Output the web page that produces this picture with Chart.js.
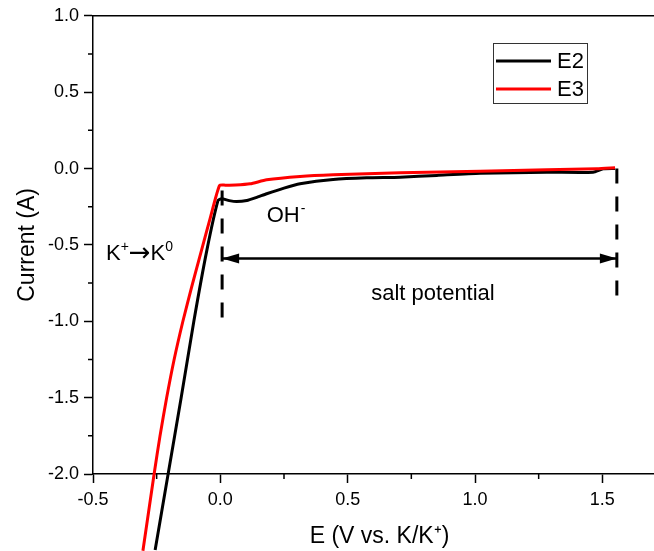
<!DOCTYPE html>
<html>
<head>
<meta charset="utf-8">
<script src="https://cdn.jsdelivr.net/npm/chart.js@4"></script>
<style>
  html, body { margin: 0; padding: 0; background: #fff; overflow: hidden; }
  canvas { display: block; }
</style>
</head>
<body>
<canvas id="cvChart" width="680" height="551"></canvas>
<script>
// E2 curve (black)
const e2X = [-0.256, -0.205, -0.154, -0.104, -0.053, -0.009, 0.005, 0.035, 0.064, 0.104, 0.14, 0.182, 0.25, 0.313, 0.443, 0.575, 0.706, 0.85, 1.02, 1.282, 1.464, 1.503, 1.55];
const e2Y = [-2.497, -2.0, -1.503, -1.0, -0.536, -0.209, -0.198, -0.21, -0.216, -0.209, -0.19, -0.165, -0.128, -0.1, -0.072, -0.061, -0.057, -0.045, -0.031, -0.024, -0.024, -0.002, 0.0];
// E3 curve (red)
const e3X = [-0.304, -0.26, -0.237, -0.211, -0.182, -0.147, -0.112, -0.074, -0.04, -0.003, 0.02, 0.06, 0.117, 0.182, 0.313, 0.443, 0.706, 1.02, 1.282, 1.478, 1.55];
const e3Y = [-2.503, -2.0, -1.752, -1.503, -1.255, -1.0, -0.771, -0.536, -0.327, -0.111, -0.109, -0.108, -0.1, -0.074, -0.052, -0.041, -0.028, -0.018, -0.008, -0.002, 0.005];

const seriesNames = ['E2', 'E3'];
const seriesColors = ['#000000', '#ff0000'];

// dashed markers and the salt potential arrow
const leftMarkX = [0.007, 0.007];
const leftMarkY = [-0.144, -0.987];
const rightMarkX = [1.557, 1.557];
const rightMarkY = [0.0, -0.85];
const arrowX = [0.007, 1.557];
const arrowY = [-0.589, -0.589];

const xMinor = [-0.25, 0.25, 0.75, 1.25];
const yMinor = [0.75, 0.25, -0.25, -0.75, -1.25, -1.75];

const FONT = "'Liberation Sans', Arial, sans-serif";

function pts(xs, ys) {
    return xs.map((x, i) => ({ x: x, y: ys[i] }));
}

// draws minor ticks, arrow heads, labels and the legend box
const extras = {
    id: 'extras',
    afterDatasetsDraw(chart) {
        const ctx = chart.ctx;
        const sx = chart.scales.x;
        const sy = chart.scales.y;
        const area = chart.chartArea;
        ctx.save();

        // minor ticks
        ctx.strokeStyle = '#000';
        ctx.lineWidth = 1.5;
        ctx.beginPath();
        xMinor.forEach(v => {
            const px = sx.getPixelForValue(v);
            ctx.moveTo(px, area.bottom);
            ctx.lineTo(px, area.bottom + 5);
        });
        yMinor.forEach(v => {
            const py = sy.getPixelForValue(v);
            ctx.moveTo(area.left, py);
            ctx.lineTo(area.left - 5, py);
        });
        ctx.stroke();

        // arrow heads
        const ay = sy.getPixelForValue(arrowY[0]);
        const ax0 = sx.getPixelForValue(arrowX[0]);
        const ax1 = sx.getPixelForValue(arrowX[1]);
        ctx.fillStyle = '#000';
        ctx.beginPath();
        ctx.moveTo(ax0, ay);
        ctx.lineTo(ax0 + 17, ay - 5);
        ctx.lineTo(ax0 + 17, ay + 5);
        ctx.closePath();
        ctx.fill();
        ctx.beginPath();
        ctx.moveTo(ax1, ay);
        ctx.lineTo(ax1 - 17, ay - 5);
        ctx.lineTo(ax1 - 17, ay + 5);
        ctx.closePath();
        ctx.fill();

        // text labels
        ctx.fillStyle = '#000';
        ctx.textBaseline = 'alphabetic';
        ctx.textAlign = 'left';
        const big = '22px ' + FONT;
        const small = '14px ' + FONT;

        // OH-
        let tx = sx.getPixelForValue(0.182);
        let ty = sy.getPixelForValue(-0.351);
        ctx.font = big;
        ctx.fillText('OH', tx, ty);
        tx += ctx.measureText('OH').width + 1;
        ctx.font = small;
        ctx.fillText('-', tx, ty - 9);

        // K+ -> K0
        tx = sx.getPixelForValue(-0.449);
        ty = sy.getPixelForValue(-0.601);
        ctx.font = big;
        ctx.fillText('K', tx, ty);
        tx += ctx.measureText('K').width;
        ctx.font = small;
        ctx.fillText('+', tx, ty - 9);
        tx += ctx.measureText('+').width;
        ctx.font = "26px 'DejaVu Sans', sans-serif";
        ctx.fillText('\u2192', tx, ty + 1);
        tx += ctx.measureText('\u2192').width;
        ctx.font = big;
        ctx.fillText('K', tx, ty);
        tx += ctx.measureText('K').width;
        ctx.font = small;
        ctx.fillText('0', tx, ty - 9);

        // salt potential
        ctx.font = big;
        ctx.textAlign = 'center';
        ctx.fillText('salt potential', sx.getPixelForValue(0.835), sy.getPixelForValue(-0.858));

        // legend
        ctx.textAlign = 'left';
        ctx.textBaseline = 'middle';
        ctx.lineWidth = 1;
        ctx.strokeStyle = '#333';
        ctx.strokeRect(493.5, 43.5, 94, 60);
        const rows = [61, 89];
        seriesNames.forEach((name, i) => {
            ctx.strokeStyle = seriesColors[i];
            ctx.lineWidth = 3;
            ctx.beginPath();
            ctx.moveTo(496, rows[i]);
            ctx.lineTo(551, rows[i]);
            ctx.stroke();
            ctx.fillStyle = '#000';
            ctx.font = big;
            ctx.fillText(name, 557, rows[i] + 1);
        });

        ctx.restore();
    }
};

const ctx = document.getElementById('cvChart').getContext('2d');

const dashStyle = {
    showLine: true, pointRadius: 0, borderColor: '#000', borderWidth: 3,
    borderDash: [15, 13], clip: false, order: 0
};

new Chart(ctx, {
    type: 'scatter',
    data: {
        datasets: [
            Object.assign({ label: 'left', data: pts(leftMarkX, leftMarkY) }, dashStyle),
            Object.assign({ label: 'right', data: pts(rightMarkX, rightMarkY) }, dashStyle),
            {
                label: 'arrow', data: pts(arrowX, arrowY), showLine: true, pointRadius: 0,
                borderColor: '#000', borderWidth: 2.5, clip: false, order: 0
            },
            {
                label: seriesNames[1], data: pts(e3X, e3Y), showLine: true, pointRadius: 0,
                borderColor: seriesColors[1], borderWidth: 3, tension: 0.2,
                clip: false, order: 1
            },
            {
                label: seriesNames[0], data: pts(e2X, e2Y), showLine: true, pointRadius: 0,
                borderColor: seriesColors[0], borderWidth: 3, tension: 0.2,
                clip: false, order: 2
            }
        ]
    },
    options: {
        responsive: false,
        animation: false,
        layout: { padding: { top: 15, right: 14, left: 0, bottom: 0 } },
        plugins: {
            legend: { display: false },
            tooltip: { enabled: false }
        },
        scales: {
            x: {
                type: 'linear',
                position: 'bottom',
                min: -0.5,
                max: 1.75,
                afterFit: s => { s.height = 77; },
                ticks: {
                    stepSize: 0.5,
                    includeBounds: false,
                    maxRotation: 0,
                    padding: 6,
                    color: '#000',
                    font: { family: FONT, size: 18 },
                    callback: v => v.toFixed(1)
                },
                grid: { drawOnChartArea: false, tickLength: 9, tickWidth: 1.5, tickColor: '#000' },
                border: { color: '#000', width: 1.5 },
                title: {
                    display: true,
                    text: 'E (V vs. K/K\u207A)',
                    color: '#000',
                    font: { family: FONT, size: 23 },
                    padding: { top: 0, bottom: 1 }
                }
            },
            xTop: {
                type: 'linear',
                position: 'top',
                min: -0.5,
                max: 1.75,
                afterFit: s => { s.height = 0; },
                ticks: { display: false },
                grid: { display: false },
                border: { color: '#000', width: 1.5 }
            },
            y: {
                type: 'linear',
                position: 'left',
                min: -2.0,
                max: 1.0,
                afterFit: s => { s.width = 93; },
                ticks: {
                    stepSize: 0.5,
                    padding: 5,
                    color: '#000',
                    font: { family: FONT, size: 18 },
                    callback: v => v.toFixed(1)
                },
                grid: { drawOnChartArea: false, tickLength: 9, tickWidth: 1.5, tickColor: '#000' },
                border: { color: '#000', width: 1.5 },
                title: {
                    display: true,
                    text: 'Current (A)',
                    color: '#000',
                    font: { family: FONT, size: 23 },
                    padding: { top: 14, bottom: 0 }
                }
            }
        }
    },
    plugins: [extras]
});
</script>
</body>
</html>
